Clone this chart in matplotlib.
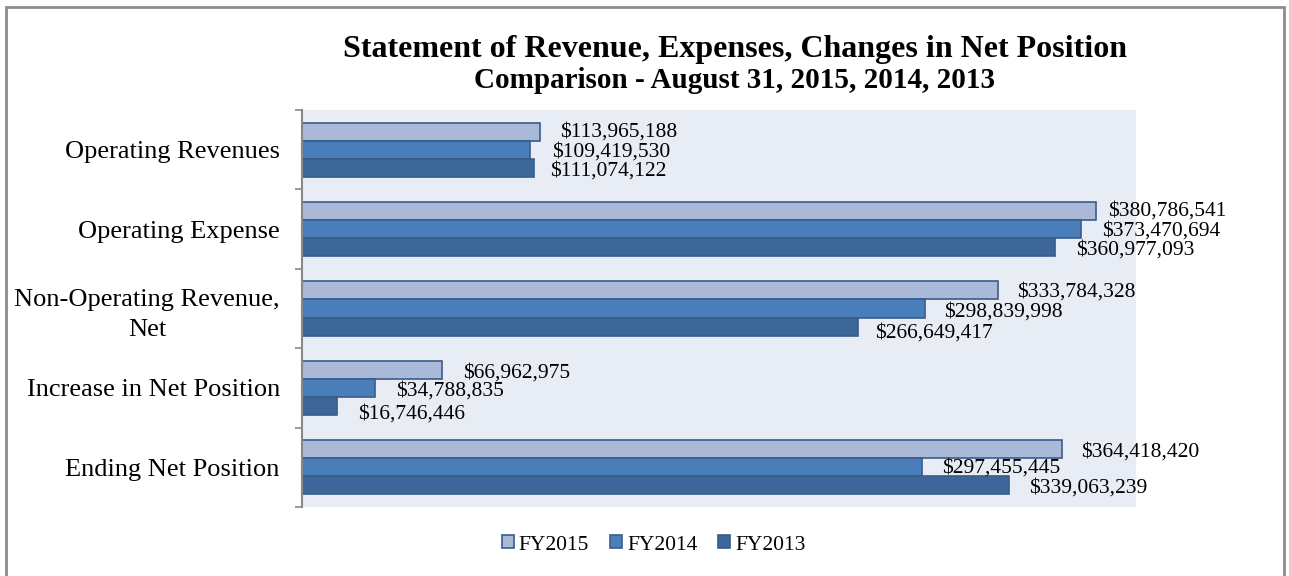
import matplotlib.pyplot as plt
from matplotlib.patches import Rectangle
import numpy as np

categories = ['Operating Revenues', 'Operating Expense', 'Non-Operating Revenue,\nNet',
              'Increase in Net Position', 'Ending Net Position']
series = ['FY2015', 'FY2014', 'FY2013']
fy2015 = [113965188, 380786541, 333784328, 66962975, 364418420]
fy2014 = [109419530, 373470694, 298839998, 34788835, 297455445]
fy2013 = [111074122, 360977093, 266649417, 16746446, 339063239]

# label nudges in pixels (right, down), one row per series
label_dx = [[20, 12, 19, 21, 19],
            [22, 21, 19, 22, 20],
            [16, 21, 17, 21, 20]]
label_dy = [[0, 0, 2, 3, 3],
            [2, 2, 4, 3, 1],
            [3, 3, 7, 8, 3]]

colors = ['#AAB9D7', '#4A7EBB', '#3D6799']
edge = '#385D8A'

plt.rcParams['font.family'] = ['Liberation Serif', 'DejaVu Serif']

fig = plt.figure(figsize=(12.89, 5.76), dpi=100)
ax = fig.add_axes([302 / 1289, 1 - 507 / 576, (1136 - 302) / 1289, (507 - 110) / 576])
ax.set_facecolor('#E8ECF4')

h = 0.227
y = np.arange(len(categories))
for j, (name, vals) in enumerate(zip(series, [fy2015, fy2014, fy2013])):
    pos = y + (j - 1) * h
    ax.barh(pos, vals, height=h, color=colors[j], edgecolor=edge, linewidth=1.2, label=name)
    for i, v in enumerate(vals):
        ax.annotate('${:,}'.format(v), (v, pos[i]),
                    xytext=(label_dx[j][i] * 0.72, -label_dy[j][i] * 0.72),
                    textcoords='offset points', ha='left', va='center', fontsize=15.5,
                    annotation_clip=False)

ax.set_xlim(0, 400e6)
ax.set_ylim(len(categories) - 0.5, -0.5)
ax.set_xticks([])
ax.set_yticks(y)
ax.set_yticklabels(categories, fontsize=19, multialignment='center', linespacing=1.45)
ax.tick_params(axis='y', which='major', length=0, pad=16)
ax.set_yticks(np.arange(-0.5, len(categories)), minor=True)
ax.tick_params(axis='y', which='minor', length=5, width=1.2, color='#888888', direction='out')
for s in ['top', 'right', 'bottom']:
    ax.spines[s].set_visible(False)
ax.spines['left'].set_color('#888888')
ax.spines['left'].set_linewidth(1.5)

fig.text(735 / 1289, 1 - 49 / 576, 'Statement of Revenue, Expenses, Changes in Net Position',
         ha='center', va='center', fontsize=23, fontweight='bold')
fig.text(735 / 1289, 1 - 81 / 576, 'Comparison - August 31, 2015, 2014, 2013',
         ha='center', va='center', fontsize=21, fontweight='bold')

fig.legend(loc='center', bbox_to_anchor=(0.507, 1 - 545 / 576), ncol=3, frameon=False,
           fontsize=15.5, handlelength=0.55, handleheight=0.55, handletextpad=0.25,
           columnspacing=0.95)

fig.add_artist(Rectangle((6 / 1289, -0.02), (1284 - 6) / 1289, 1.02 - 7 / 576,
                         transform=fig.transFigure, fill=False, edgecolor='#8C8C8C', lw=2))

fig.savefig('out.png', dpi=100)
